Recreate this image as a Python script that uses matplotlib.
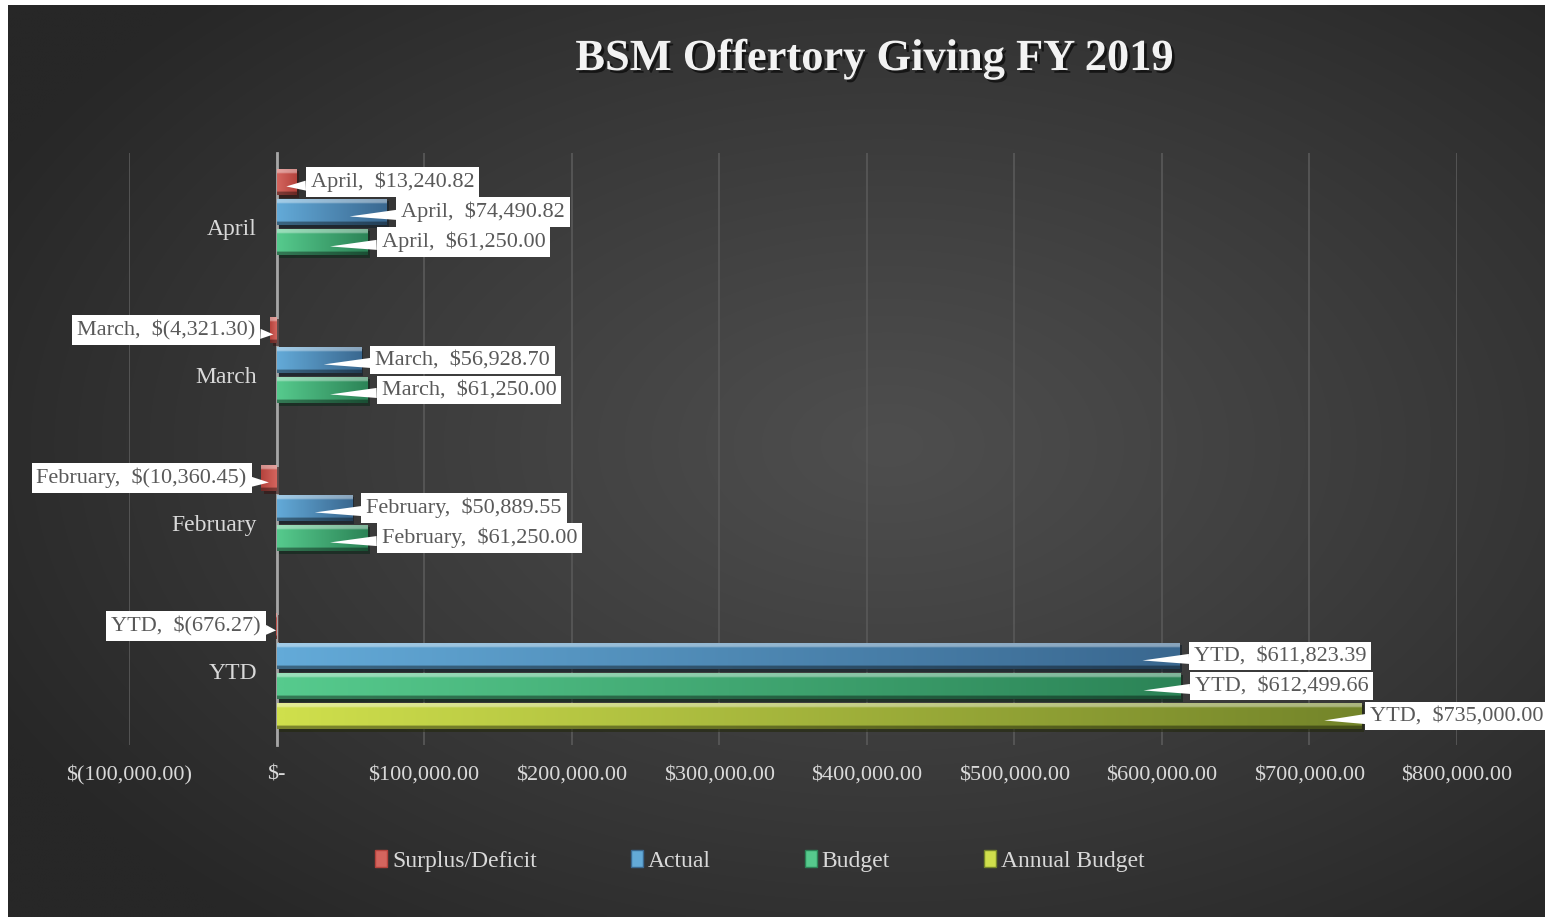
import numpy as np
import matplotlib
matplotlib.use('Agg')
import matplotlib.pyplot as plt
import matplotlib.patheffects as pe
from matplotlib.patches import Patch
from matplotlib.ticker import FuncFormatter
from matplotlib.transforms import ScaledTranslation

# data (bottom to top on the chart)
categories = ['YTD', 'February', 'March', 'April']
surplus = [-676.27, -10360.45, -4321.30, 13240.82]
actual = [611823.39, 50889.55, 56928.70, 74490.82]
budget = [612499.66, 61250.00, 61250.00, 61250.00]
annual_budget = [735000.00, np.nan, np.nan, np.nan]

series_names = ['Surplus/Deficit', 'Actual', 'Budget', 'Annual Budget']
x_ticks = np.arange(-100000, 800001, 100000)

# colours: (left, right) for the gradient fill
colors = [('#d4655e', '#b5433d'),
          ('#63aad8', '#3a6890'),
          ('#56ca8d', '#2c8457'),
          ('#cfdf4c', '#74852a')]

plt.rcParams['font.family'] = ['Liberation Serif', 'DejaVu Serif']


def money(v, pos=None):
    if v == 0:
        return '$-'
    if v < 0:
        return '$({:,.2f})'.format(-v)
    return '${:,.2f}'.format(v)


def hex2rgb(h):
    return np.array([int(h[i:i + 2], 16) / 255 for i in (1, 3, 5)])


fig = plt.figure(figsize=(15.46, 9.17), dpi=100, facecolor='white')

# dark radial background, with the thin white margin left/top
bg = fig.add_axes([8 / 1546, 0, 1537 / 1546, 912 / 917])
gx, gy = np.meshgrid(np.linspace(0, 1537, 400), np.linspace(0, 912, 240))
r = np.sqrt(((gx - 880) / 1000) ** 2 + ((gy - 440) / 620) ** 2)
shade = 0x4e - (0x4e - 0x27) * np.clip(r, 0, 1) ** 1.1
bg.imshow(np.dstack([shade / 255] * 3), extent=[0, 1, 0, 1], aspect='auto',
          origin='upper', interpolation='bilinear')
bg.axis('off')

ax = fig.add_axes([129 / 1546, 172 / 917, 1328 / 1546, 592 / 917])
ax.patch.set_alpha(0)

y = np.arange(len(categories))
slot = 0.2027
bar_h = 0.18
all_series = [surplus, actual, budget, annual_budget]
offsets = [1.5, 0.5, -0.5, -1.5]


def gradient_img(c_left, c_right):
    nx, ny = 64, 16
    t = np.linspace(0, 1, nx)
    base = hex2rgb(c_left)[None, :] * (1 - t[:, None]) + hex2rgb(c_right)[None, :] * t[:, None]
    img = np.repeat(base[None, :, :], ny, axis=0)
    v = np.linspace(0, 1, ny)  # 0 bottom, 1 top
    top = v > 0.82
    bot = v < 0.12
    img[top] = img[top] * 0.6 + 0.4
    img[bot] = img[bot] * 0.6
    return np.clip(img, 0, 1)


for vals, off, (cl, cr) in zip(all_series, offsets, colors):
    vals = np.array(vals, dtype=float)
    bars = ax.barh(y + off * slot, np.nan_to_num(vals), height=bar_h, color=cr,
                   edgecolor='none', zorder=3)
    img = gradient_img(cl, cr)
    for b, v in zip(bars, vals):
        if np.isnan(v):
            b.set_visible(False)
            continue
        b.set_path_effects([pe.SimplePatchShadow(offset=(2, -2), alpha=0.6), pe.Normal()])
        x0, y0 = b.get_x(), b.get_y()
        w, h = b.get_width(), b.get_height()
        im = ax.imshow(img, extent=[x0, x0 + w, y0, y0 + h], origin='lower',
                       aspect='auto', zorder=4, interpolation='bilinear')
        im.set_clip_path(b)

ax.set_xlim(-100000, 800000)
ax.set_ylim(-0.5, len(categories) - 0.5)

# data labels with callouts
labels = []
for vals, off in zip(all_series, offsets):
    for cat, yy, v in zip(categories, y, vals):
        if np.isnan(v):
            continue
        s = 1 if v >= 0 else -1
        tip = v - s * min(abs(v) * 0.5, 25000)
        tr = ax.transData + ScaledTranslation(s * 10.5 / 72, 0, fig.dpi_scale_trans)
        a = ax.annotate('{},  {}'.format(cat, money(v)),
                        xy=(tip, yy + off * slot - 0.03), xycoords='data',
                        xytext=(v, yy + off * slot), textcoords=tr,
                        ha='left' if s > 0 else 'right', va='center',
                        fontsize=16, color='#595959', zorder=6,
                        bbox=dict(boxstyle='square,pad=0.22', fc='white', ec='none'),
                        arrowprops=dict(arrowstyle='wedge,tail_width=0.45,shrink_factor=0.5',
                                        fc='white', ec='none', shrinkA=0, shrinkB=0))
        labels.append((a, s))

# pull labels back inside the chart like Excel does
fig.canvas.draw()
W = fig.bbox.width
for a, s in labels:
    ext = a.get_window_extent()
    over = ext.x1 - (W - 4)
    if s > 0 and over > 0:
        shift = max(10.5 - over * 72 / fig.dpi, 6.5)
        a.anncoords = ax.transData + ScaledTranslation(shift / 72, 0, fig.dpi_scale_trans)

ax.set_xticks(x_ticks)
ax.xaxis.set_major_formatter(FuncFormatter(money))
ax.set_yticks(y)
ax.set_yticklabels(categories)

ax.grid(axis='x', color='#575757', lw=1.3, zorder=0)
ax.set_axisbelow(True)
for sp in ['top', 'right', 'bottom']:
    ax.spines[sp].set_visible(False)
ax.spines['left'].set_position(('data', 0))
ax.spines['left'].set_color('#a6a6a6')
ax.spines['left'].set_linewidth(2)
ax.spines['left'].set_zorder(2)
ax.tick_params(axis='y', length=0, pad=14, labelsize=17, labelcolor='#d9d9d9')
ax.tick_params(axis='x', length=0, pad=15, labelsize=16, labelcolor='#d9d9d9')

fig.text(875 / 1546, 1 - 59 / 917, 'BSM Offertory Giving FY 2019', ha='center', va='center',
         fontsize=32, fontweight='bold', color='#f2f2f2',
         path_effects=[pe.withSimplePatchShadow(offset=(2, -2), shadow_rgbFace='black', alpha=0.6)])

handles = [Patch(facecolor=c[0], edgecolor=c[1], lw=1) for c in colors]
fig.legend(handles, series_names, loc='center', bbox_to_anchor=(760 / 1546, 1 - 861 / 917),
           ncol=4, frameon=False, fontsize=17, labelcolor='#d9d9d9',
           handlelength=0.5, handleheight=0.7, handletextpad=0.2, columnspacing=4.0)

fig.savefig('out.png', dpi=100, facecolor='white')
